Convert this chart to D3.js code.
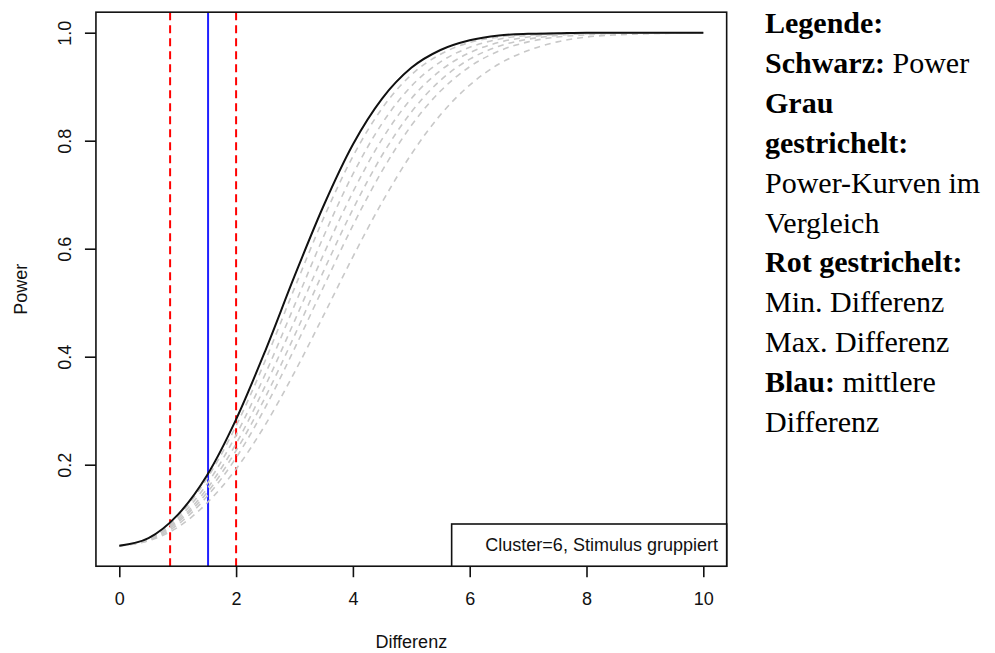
<!DOCTYPE html>
<html>
<head>
<meta charset="utf-8">
<script src="https://cdn.jsdelivr.net/npm/d3@7"></script>
<style>
  body { margin: 0; background: #fff; }
  svg text { font-family: 'Liberation Sans', Arial, sans-serif; }
  .legende text { font-family: 'Liberation Serif', 'Times New Roman', serif; white-space: pre; }
</style>
</head>
<body>
<div id="grafica"></div>
<script>
// Differenz (x-Werte), gemeinsam für alle Kurven
var differenz = [0, 0.5, 1, 1.5, 2, 2.5, 3, 3.5, 4, 4.5, 5, 5.5, 6, 6.5, 7, 7.5, 8, 8.5, 9, 9.5, 10]

// schwarze Kurve: Power
var powerSchwarz = [0.05, 0.064, 0.107, 0.18, 0.284, 0.411, 0.549, 0.68, 0.793, 0.878, 0.935, 0.968, 0.986, 0.995, 0.998, 0.999, 1, 1, 1, 1, 1]

// graue gestrichelte Kurven zum Vergleich
var powerGrau1 = [0.05, 0.063, 0.104, 0.174, 0.272, 0.393, 0.527, 0.657, 0.771, 0.86, 0.922, 0.96, 0.982, 0.992, 0.997, 0.999, 1, 1, 1, 1, 1]
var powerGrau2 = [0.05, 0.062, 0.1, 0.164, 0.255, 0.368, 0.495, 0.623, 0.738, 0.832, 0.901, 0.946, 0.973, 0.988, 0.995, 0.998, 0.999, 1, 1, 1, 1]
var powerGrau3 = [0.05, 0.062, 0.096, 0.155, 0.239, 0.346, 0.466, 0.59, 0.705, 0.803, 0.878, 0.93, 0.963, 0.982, 0.992, 0.997, 0.999, 1, 1, 1, 1]
var powerGrau4 = [0.05, 0.061, 0.093, 0.148, 0.226, 0.325, 0.439, 0.559, 0.673, 0.773, 0.853, 0.912, 0.951, 0.975, 0.988, 0.995, 0.998, 0.999, 1, 1, 1]
var powerGrau5 = [0.05, 0.06, 0.089, 0.141, 0.213, 0.306, 0.415, 0.53, 0.643, 0.744, 0.828, 0.892, 0.937, 0.966, 0.983, 0.992, 0.996, 0.999, 1, 1, 1]
var powerGrau6 = [0.05, 0.059, 0.084, 0.129, 0.192, 0.274, 0.371, 0.477, 0.585, 0.686, 0.775, 0.848, 0.903, 0.942, 0.967, 0.983, 0.992, 0.996, 0.998, 0.999, 1]

// vertikale Linien
var minDifferenz = 0.87
var maxDifferenz = 2
var mittlereDifferenz = 1.52

// Achsen
var xTicks = [0, 2, 4, 6, 8, 10]
var yTicks = [0.2, 0.4, 0.6, 0.8, 1.0]
var xTitel = 'Differenz'
var yTitel = 'Power'
var boxText = 'Cluster=6, Stimulus gruppiert'

// Legende rechts: [fett, normal]
var legendeZeilen = [
  ['Legende:', ''],
  ['Schwarz:', ' Power'],
  ['Grau', ''],
  ['gestrichelt:', ''],
  ['', 'Power-Kurven im'],
  ['', 'Vergleich'],
  ['Rot gestrichelt:', ''],
  ['', 'Min. Differenz'],
  ['', 'Max. Differenz'],
  ['Blau:', ' mittlere'],
  ['', 'Differenz'],
]

var width = 995
var height = 653

var svg = d3
  .select('#grafica')
  .append('svg')
  .attr('width', width)
  .attr('height', height)

// Skalen (R erweitert den Bereich um 4%)
var x = d3.scaleLinear().domain([0, 10]).range([119.3, 703.3])
var y = d3.scaleLinear().domain([0.2, 1]).range([464.7, 32.7])

var plotLeft = x(-0.4)
var plotRight = x(10.4)
var plotTop = y(1.038)
var plotBottom = y(0.012)

svg
  .append('clipPath')
  .attr('id', 'plotclip')
  .append('rect')
  .attr('x', plotLeft)
  .attr('y', plotTop)
  .attr('width', plotRight - plotLeft)
  .attr('height', plotBottom - plotTop)

var plot = svg.append('g').attr('clip-path', 'url(#plotclip)')

// rote und blaue Linien
plot
  .selectAll('line.rot')
  .data([minDifferenz, maxDifferenz])
  .enter()
  .append('line')
  .attr('class', 'rot')
  .attr('x1', (d) => x(d))
  .attr('x2', (d) => x(d))
  .attr('y1', plotTop)
  .attr('y2', plotBottom)
  .attr('stroke', '#ff0000')
  .attr('stroke-width', 2)
  .attr('stroke-dasharray', '8,5')

plot
  .append('line')
  .attr('x1', x(mittlereDifferenz))
  .attr('x2', x(mittlereDifferenz))
  .attr('y1', plotTop)
  .attr('y2', plotBottom)
  .attr('stroke', '#2020ff')
  .attr('stroke-width', 2)

var linie = d3
  .line()
  .x((d, i) => x(differenz[i]))
  .y((d) => y(d))
  .curve(d3.curveMonotoneX)

var grau = [powerGrau6, powerGrau5, powerGrau4, powerGrau3, powerGrau2, powerGrau1]

plot
  .selectAll('path.grau')
  .data(grau)
  .enter()
  .append('path')
  .attr('class', 'grau')
  .attr('d', (d) => linie(d))
  .attr('fill', 'none')
  .attr('stroke', '#c8c8c8')
  .attr('stroke-width', 1.6)
  .attr('stroke-dasharray', '6,5')

plot
  .append('path')
  .attr('d', linie(powerSchwarz))
  .attr('fill', 'none')
  .attr('stroke', '#111')
  .attr('stroke-width', 2)

// Box um den Plot
svg
  .append('rect')
  .attr('x', plotLeft)
  .attr('y', plotTop)
  .attr('width', plotRight - plotLeft)
  .attr('height', plotBottom - plotTop)
  .attr('fill', 'none')
  .attr('stroke', '#111')
  .attr('stroke-width', 1.6)

// Achsen
var xaxis = d3.axisBottom(x).tickValues(xTicks).tickSize(11).tickPadding(15).tickFormat(d3.format('d'))
var yaxis = d3.axisLeft(y).tickValues(yTicks).tickSize(11).tickPadding(15).tickFormat(d3.format('.1f'))

var gx = svg.append('g').attr('transform', 'translate(0,' + plotBottom + ')').call(xaxis)
gx.select('.domain').remove()
gx.selectAll('line').attr('stroke', '#111').attr('stroke-width', 1.6)
gx.selectAll('text').style('font-size', '18px').attr('fill', '#111')

var gy = svg.append('g').attr('transform', 'translate(' + plotLeft + ',0)').call(yaxis)
gy.select('.domain').remove()
gy.selectAll('line').attr('stroke', '#111').attr('stroke-width', 1.6)
gy.selectAll('text')
  .style('font-size', '18px')
  .attr('fill', '#111')
  .attr('x', null)
  .attr('dy', null)
  .attr('text-anchor', 'middle')
  .attr('transform', 'translate(' + (70.5 - plotLeft) + ',0) rotate(-90)')

// Achsentitel
svg
  .append('text')
  .attr('x', (plotLeft + plotRight) / 2)
  .attr('y', 648)
  .attr('text-anchor', 'middle')
  .style('font-size', '18px')
  .attr('fill', '#111')
  .text(xTitel)

svg
  .append('text')
  .attr('transform', 'translate(27,' + (plotTop + plotBottom) / 2 + ') rotate(-90)')
  .attr('text-anchor', 'middle')
  .style('font-size', '18px')
  .attr('fill', '#111')
  .text(yTitel)

// Beschriftung unten rechts mit Rahmen
var boxG = svg.append('g')
var boxRect = boxG.append('rect')
var bt = boxG
  .append('text')
  .attr('x', plotRight - 8.7)
  .attr('y', 551)
  .attr('text-anchor', 'end')
  .style('font-size', '18px')
  .attr('fill', '#111')
  .text(boxText)

var btLen = bt.node().getComputedTextLength()
boxRect
  .attr('x', plotRight - 8.7 - btLen - 33.7)
  .attr('y', 524)
  .attr('width', btLen + 33.7 + 8.7)
  .attr('height', plotBottom - 524)
  .attr('fill', 'white')
  .attr('stroke', '#111')
  .attr('stroke-width', 1.6)

// Legende (Text rechts)
var legende = svg.append('g').attr('class', 'legende')
legendeZeilen.forEach(function (z, i) {
  var t = legende
    .append('text')
    .attr('x', 765)
    .attr('y', 33.3 + i * 39.84)
    .style('font-size', '30px')
    .attr('fill', '#000')
  if (z[0]) t.append('tspan').style('font-weight', 'bold').text(z[0])
  if (z[1]) t.append('tspan').text(z[1])
})
</script>
</body>
</html>
